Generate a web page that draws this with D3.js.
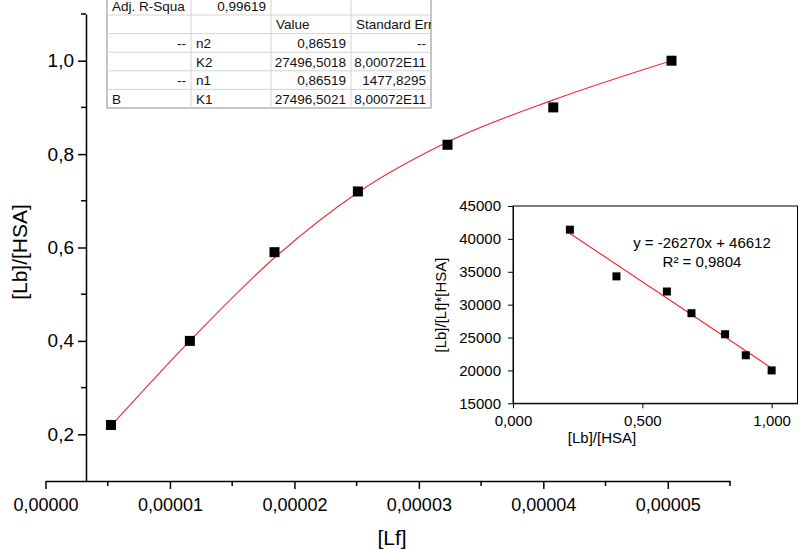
<!DOCTYPE html>
<html>
<head>
<meta charset="utf-8">
<script src="https://cdn.jsdelivr.net/npm/d3@7"></script>
<style>
  body { margin: 0; background: #fff; }
  svg { display: block; font-family: "Liberation Sans", Arial, sans-serif; }
</style>
</head>
<body>
<svg id="chart" width="800" height="549"></svg>
<script>
// main plot: [Lf] vs [Lb]/[HSA]
var lfValues = [5.26e-6, 1.16e-5, 1.84e-5, 2.51e-5, 3.23e-5, 4.08e-5, 5.03e-5];
var ratioValues = [0.22, 0.40, 0.59, 0.72, 0.82, 0.90, 1.00];
var fitValues = [0.218, 0.400, 0.578, 0.718, 0.826, 0.916, 1.0];
var xMajor = [0, 1e-5, 2e-5, 3e-5, 4e-5, 5e-5];
var xMinor = [0.5e-5, 1.5e-5, 2.5e-5, 3.5e-5, 4.5e-5, 5.5e-5];
var yMajor = [0.2, 0.4, 0.6, 0.8, 1.0];
var yMinor = [0.3, 0.5, 0.7, 0.9, 1.1];

// inset: Scatchard-like plot
var insetX = [0.22, 0.40, 0.595, 0.69, 0.82, 0.90, 1.0];
var insetY = [41400, 34300, 32000, 28700, 25500, 22300, 20000];
var insetYTicks = [15000, 20000, 25000, 30000, 35000, 40000, 45000];
var insetXTicks = [0, 0.5, 1.0];
var slope = -26270, intercept = 46612;

// fit table
var tableRows = [
  ["Adj. R-Squa", "0,99619", "", ""],
  ["", "", "Value", "Standard Err"],
  ["--", "n2", "0,86519", "--"],
  ["", "K2", "27496,5018", "8,00072E11"],
  ["--", "n1", "0,86519", "1477,8295"],
  ["B", "K1", "27496,5021", "8,00072E11"]
];

var svg = d3.select("#chart");
svg.append("rect").attr("width", 800).attr("height", 549).attr("fill", "#fff");

var comma = function(f) { return function(d) { return f(d).replace(".", ","); }; };

// ---- main chart ----
var x = d3.scaleLinear().domain([0, 5.5e-5]).range([45.5, 730]);
var y = d3.scaleLinear().domain([0.1, 1.1]).range([481, 14]);
var yAxisX = 86;

var gx = svg.append("g").attr("transform", "translate(0,481)");
gx.call(d3.axisBottom(x).tickValues(xMajor).tickSize(8).tickSizeOuter(0)
  .tickFormat(comma(d3.format(".5f"))));
gx.selectAll(".tick line").attr("stroke", "#000").attr("stroke-width", 1.5);
gx.selectAll(".tick text").attr("font-size", 18).attr("dy", "1.05em").attr("fill", "#000");
gx.select(".domain").attr("stroke", "#000").attr("stroke-width", 1.5);
gx.selectAll(".minor").data(xMinor).enter().append("line")
  .attr("class", "minor")
  .attr("x1", function(d) { return x(d); }).attr("x2", function(d) { return x(d); })
  .attr("y1", 0).attr("y2", 5).attr("stroke", "#000").attr("stroke-width", 1.5);

var gy = svg.append("g").attr("transform", "translate(" + yAxisX + ",0)");
gy.call(d3.axisLeft(y).tickValues(yMajor).tickSize(8).tickSizeOuter(0)
  .tickFormat(comma(d3.format(".1f"))));
gy.selectAll(".tick line").attr("stroke", "#000").attr("stroke-width", 1.5);
gy.selectAll(".tick text").attr("font-size", 19).attr("x", -12).attr("fill", "#000");
gy.select(".domain").attr("stroke", "#000").attr("stroke-width", 1.5);
gy.selectAll(".minor").data(yMinor).enter().append("line")
  .attr("class", "minor")
  .attr("y1", function(d) { return y(d); }).attr("y2", function(d) { return y(d); })
  .attr("x1", 0).attr("x2", -5).attr("stroke", "#000").attr("stroke-width", 1.5);

svg.append("text").attr("x", 392).attr("y", 545).attr("text-anchor", "middle")
  .attr("font-size", 21).text("[Lf]");
svg.append("text").attr("transform", "translate(27,252) rotate(-90)")
  .attr("text-anchor", "middle").attr("font-size", 21).text("[Lb]/[HSA]");

var fitLine = d3.line()
  .x(function(d, i) { return x(lfValues[i]); })
  .y(function(d) { return y(d); })
  .curve(d3.curveMonotoneX);
svg.append("path").datum(fitValues).attr("d", fitLine)
  .attr("fill", "none").attr("stroke", "#e8303a").attr("stroke-width", 1.2);

svg.selectAll(".pt").data(ratioValues).enter().append("rect")
  .attr("class", "pt")
  .attr("x", function(d, i) { return x(lfValues[i]) - 5; })
  .attr("y", function(d) { return y(d) - 5; })
  .attr("width", 10).attr("height", 10).attr("fill", "#000");

// ---- fit table ----
var colEdges = [107, 191, 271, 351, 431];
var rowTop = -3.6, rowH = 18.6;
var tbl = svg.append("g");
tbl.append("clipPath").attr("id", "tclip").append("rect")
  .attr("x", colEdges[0]).attr("y", rowTop)
  .attr("width", colEdges[4] - colEdges[0]).attr("height", rowH * tableRows.length);
tbl.append("rect").attr("x", colEdges[0]).attr("y", rowTop)
  .attr("width", colEdges[4] - colEdges[0]).attr("height", rowH * tableRows.length)
  .attr("fill", "#fff").attr("stroke", "#8c8c8c").attr("stroke-width", 1);
for (var r = 1; r < tableRows.length; r++) {
  tbl.append("line").attr("x1", colEdges[0]).attr("x2", colEdges[4])
    .attr("y1", rowTop + r * rowH).attr("y2", rowTop + r * rowH)
    .attr("stroke", "#d4d4d4");
}
for (var c = 1; c < 4; c++) {
  tbl.append("line").attr("x1", colEdges[c]).attr("x2", colEdges[c])
    .attr("y1", rowTop).attr("y2", rowTop + rowH * tableRows.length)
    .attr("stroke", "#d4d4d4");
}
var cells = [];
tableRows.forEach(function(row, ri) {
  row.forEach(function(t, ci) { if (t) cells.push({t: t, r: ri, c: ci}); });
});
tbl.append("g").attr("clip-path", "url(#tclip)")
  .selectAll("text").data(cells).enter().append("text")
  .attr("font-size", 13.5).attr("fill", "#111")
  .attr("y", function(d) { return rowTop + d.r * rowH + rowH / 2 + 5; })
  .each(function(d) {
    var right = /^[-\d,E]+$/.test(d.t);
    d3.select(this)
      .attr("x", right ? colEdges[d.c + 1] - 5 : colEdges[d.c] + 5)
      .attr("text-anchor", right ? "end" : "start");
  })
  .text(function(d) { return d.t; });

// ---- inset ----
var ix = d3.scaleLinear().domain([0, 1.1]).range([513, 797.5]);
var iy = d3.scaleLinear().domain([15000, 45000]).range([403.3, 206]);
var inset = svg.append("g");
inset.append("rect").attr("x", 513).attr("y", 206).attr("width", 284.5).attr("height", 197.3)
  .attr("fill", "none").attr("stroke", "#000").attr("stroke-width", 1);

var igy = inset.append("g").attr("transform", "translate(513,0)");
igy.call(d3.axisLeft(iy).tickValues(insetYTicks).tickSize(5).tickSizeOuter(0).tickFormat(d3.format("d")));
igy.select(".domain").attr("stroke", "#000");
igy.selectAll(".tick line").attr("stroke", "#000");
igy.selectAll(".tick text").attr("font-size", 15).attr("x", -12).attr("fill", "#000");

var igx = inset.append("g").attr("transform", "translate(0,403.3)");
igx.call(d3.axisBottom(ix).tickValues(insetXTicks).tickSize(5).tickSizeOuter(0)
  .tickFormat(comma(d3.format(".3f"))));
igx.select(".domain").attr("stroke", "#000");
igx.selectAll(".tick line").attr("stroke", "#000");
igx.selectAll(".tick text").attr("font-size", 15).attr("dy", "0.95em").attr("fill", "#000");

inset.append("text").attr("x", 602).attr("y", 443).attr("text-anchor", "middle")
  .attr("font-size", 15).text("[Lb]/[HSA]");
inset.append("text").attr("transform", "translate(446,305) rotate(-90)")
  .attr("text-anchor", "middle").attr("font-size", 15).text("[Lb]/[Lf]*[HSA]");

var xr = d3.extent(insetX);
inset.append("line")
  .attr("x1", ix(xr[0])).attr("y1", iy(slope * xr[0] + intercept))
  .attr("x2", ix(xr[1])).attr("y2", iy(slope * xr[1] + intercept))
  .attr("stroke", "#e8303a").attr("stroke-width", 1.2);

inset.selectAll(".ipt").data(insetY).enter().append("rect")
  .attr("class", "ipt")
  .attr("x", function(d, i) { return ix(insetX[i]) - 4; })
  .attr("y", function(d) { return iy(d) - 4; })
  .attr("width", 8).attr("height", 8).attr("fill", "#000");

inset.append("text").attr("x", 702).attr("y", 248).attr("text-anchor", "middle")
  .attr("font-size", 15).text("y = -26270x + 46612");
inset.append("text").attr("x", 702).attr("y", 267).attr("text-anchor", "middle")
  .attr("font-size", 15).text("R\u00b2 = 0,9804");
</script>
</body>
</html>
